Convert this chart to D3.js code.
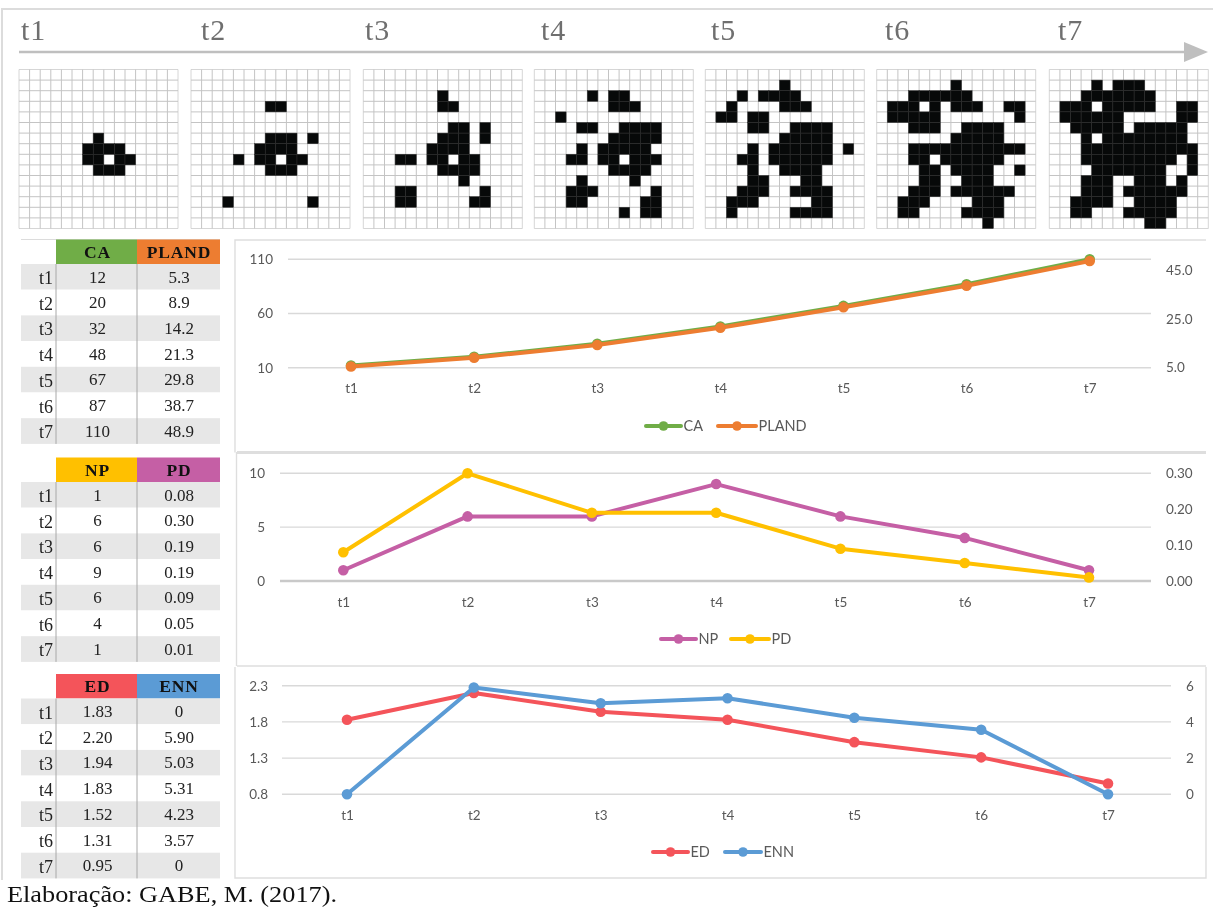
<!DOCTYPE html>
<html><head><meta charset="utf-8">
<style>html,body{margin:0;padding:0;background:#fff}svg{display:block;filter:blur(0.4px)}</style>
<script src="https://cdnjs.cloudflare.com/ajax/libs/d3/7.8.5/d3.min.js"></script>
</head><body><svg id="c" width="1213" height="907"></svg>
<script>
const periods=["t1","t2","t3","t4","t5","t6","t7"];
const caValues=[12,20,32,48,67,87,110];
const plandValues=[5.3,8.9,14.2,21.3,29.8,38.7,48.9];
const npValues=[1,6,6,9,6,4,1];
const pdValues=[0.08,0.30,0.19,0.19,0.09,0.05,0.01];
const edValues=[1.83,2.20,1.94,1.83,1.52,1.31,0.95];
const ennValues=[0,5.90,5.03,5.31,4.23,3.57,0];
const caTicks=[10,60,110];
const plandTicks=[5,25,45];
const npTicks=[0,5,10];
const pdTicks=[0,0.1,0.2,0.3];
const edTicks=[0.8,1.3,1.8,2.3];
const ennTicks=[0,2,4,6];
const sourceNote="Elaboração: GABE, M. (2017).";

const gridT1=["...............","...............","...............","...............","...............","...............",".......#.......","......####.....","......##.##....",".......###.....","...............","...............","...............","...............","..............."];
const gridT2=["...............","...............","...............",".......##......","...............","...............",".......###.#...","......####.....","....#.##.##....",".......###.....","...............","...............","...#.......#...","...............","..............."];
const gridT3=["...............","...............",".......#.......",".......##......","...............","........##.#...",".......###.#...","......####.....","...##.##.##....",".......####....",".........#.....","...##......#...","...##.....##...","...............","..............."];
const gridT4=["...............","...............",".....#.##......",".......###.....","..#............","....##..####...",".......#####...","....#.#####....","...##.##.###...",".......####....","....#....#.....","...###.....#...","...##.....##...","........#.##...","..............."];
const gridT5=["...............",".......#.......","...#.####......","..#....###.....",".##.##.........","....##..####...",".......#####...","....#.######.#.","...##.######...","....#..####....","....##...##....","...###..####...","..###.....##...","..#.....####...","..............."];
const gridT6=["...............",".......#.......","...######......",".###.#.###..##.",".#####.......#.","...###..####...",".......#####...","...###########.","...##.######...","....##.####..#.","....##..###....","...###.######..","..###....###...","..##....####...","..........#...."];
const gridT7=["...............","....#.###......","...#######.....",".###.#####..##.",".######.....##.","..#####.#####..","...#.########..","...###########.","...#########.#.","....#######..#.","...###..###.#..","...###.######..","..####..####...","..##...#####...",".........##...."];

const svg=d3.select("#c");
const serif="'Liberation Serif',serif";
const sans="Lato,'Open Sans',sans-serif";

// outer frame
svg.append("path").attr("d","M2,880V9H1213").attr("fill","none").attr("stroke","#dcdcdc").attr("stroke-width",2);

// timeline
const headPos=[21,201,365,541,711,885,1058];
svg.selectAll("text.head").data(periods).join("text").attr("class","head")
  .attr("x",(d,i)=>headPos[i]).attr("y",40).text(d=>d)
  .attr("font-family",serif).attr("font-size",30).attr("letter-spacing",1).attr("fill","#6f6f6f");
svg.append("line").attr("x1",19).attr("x2",1190).attr("y1",52).attr("y2",52).attr("stroke","#bfbfbf").attr("stroke-width",2.4);
svg.append("path").attr("d","M1184,42L1208,52L1184,62Z").attr("fill","#bfbfbf");

// mosaics
const grids=[gridT1,gridT2,gridT3,gridT4,gridT5,gridT6,gridT7];
const gridLeft=[19,191,363.3,534.3,705.3,876.7,1049.3];
const idx=d3.range(15);
grids.forEach((g,k)=>{
  const size=159;
  const x=d3.scaleBand().domain(idx).range([gridLeft[k],gridLeft[k]+size]);
  const y=d3.scaleBand().domain(idx).range([69.5,69.5+size]);
  const gg=svg.append("g");
  const cells=[];
  g.forEach((row,r)=>{for(let c=0;c<15;c++) if(row[c]==="#") cells.push({r,c});});
  const lines=d3.range(16);
  gg.selectAll("line.v").data(lines).join("line").attr("class","v")
    .attr("x1",d=>x.range()[0]+d*x.step()).attr("x2",d=>x.range()[0]+d*x.step())
    .attr("y1",y.range()[0]).attr("y2",y.range()[1]).attr("stroke","#c4c4c4").attr("stroke-width",1).attr("stroke-opacity",d=>d==0||d==15?0.7:1);
  gg.selectAll("line.h").data(lines).join("line").attr("class","h")
    .attr("y1",d=>y.range()[0]+d*y.step()).attr("y2",d=>y.range()[0]+d*y.step())
    .attr("x1",x.range()[0]).attr("x2",x.range()[1]).attr("stroke","#c4c4c4").attr("stroke-width",1).attr("stroke-opacity",d=>d==0||d==15?0.7:1);
  gg.selectAll("rect").data(cells).join("rect")
    .attr("x",d=>x(d.c)).attr("y",d=>y(d.r)).attr("width",x.bandwidth()).attr("height",y.bandwidth())
    .attr("fill","#070909").attr("stroke","#2e2e2e").attr("stroke-width",0.5);
});

// tables
function table(top,names,colors,a,b,fa,fb){
  const rowH=25.7, hH=24.5;
  const g=svg.append("g");
  const rows=d3.scaleBand().domain(periods).range([top+hH,top+hH+rowH*7]);
  g.append("rect").attr("x",56).attr("y",top).attr("width",81).attr("height",hH).attr("fill",colors[0]);
  g.append("rect").attr("x",137).attr("y",top).attr("width",83).attr("height",hH).attr("fill",colors[1]);
  g.selectAll("text.h").data(names).join("text").attr("class","h")
    .attr("x",(d,i)=>i?179:97.5).attr("y",top+18).attr("text-anchor","middle").text(d=>d)
    .attr("font-family",serif).attr("font-weight","bold").attr("font-size",17.5).attr("letter-spacing",0.8).attr("fill","#111");
  const r=g.selectAll("g.r").data(periods).join("g").attr("class","r");
  r.append("rect").attr("x",21).attr("y",d=>rows(d)).attr("width",199).attr("height",rows.bandwidth())
    .attr("fill",(d,i)=>i%2?"#ffffff":"#e7e7e7");
  const t=(sel)=>sel.attr("font-family",serif).attr("font-size",17).attr("fill","#222");
  r.append("text").attr("x",53).attr("y",d=>rows(d)+20).attr("text-anchor","end").text(d=>d).call(s=>s.attr("font-family",serif).attr("fill","#222").attr("font-size",18));
  r.append("text").attr("x",97.5).attr("y",d=>rows(d)+18.5).attr("text-anchor","middle").text((d,i)=>fa(a[i])).call(t);
  r.append("text").attr("x",179).attr("y",d=>rows(d)+18.5).attr("text-anchor","middle").text((d,i)=>fb(b[i])).call(t);
  [56,137].forEach(x=>g.append("line").attr("x1",x).attr("x2",x).attr("y1",top+hH).attr("y2",top+hH+rowH*7).attr("stroke","#a8a8a8").attr("stroke-width",1));
}
const f1=d3.format(".1f"), f2=d3.format(".2f"), fd=d3.format("d");
svg.append("line").attr("x1",21).attr("x2",220).attr("y1",239.5).attr("y2",239.5).attr("stroke","#dcdcdc").attr("stroke-width",1);
table(239.5,["CA","PLAND"],["#70ad47","#ed7d31"],caValues,plandValues,fd,f1);
table(457.5,["NP","PD"],["#ffc000","#c55fa5"],npValues,pdValues,fd,f2);
table(674,["ED","ENN"],["#f4545a","#5b9bd5"],edValues,ennValues,f2,v=>v===0?"0":f2(v));

// chart panels
[["M235,452.5V240H1206",1.4],["M237,452.5H1206",3.2],["M236.5,452V666",1.4],["M237,666H1206",1.6],["M235,667V878H1206V667",1.4]].forEach(([d,w])=>{
  svg.append("path").attr("d",d).attr("fill","none").attr("stroke","#dedede").attr("stroke-width",w);
});

function chart(o){
  const g=svg.append("g");
  const x=d3.scalePoint().domain(periods).range(o.xRange);
  const yL=d3.scaleLinear().domain(o.leftDomain).range(o.yRange);
  const yR=d3.scaleLinear().domain(o.rightDomain).range(o.yRangeR||o.yRange);
  g.selectAll("line.grid").data(o.leftTicks).join("line").attr("class","grid")
    .attr("x1",o.gridX[0]).attr("x2",o.gridX[1]).attr("y1",d=>yL(d)).attr("y2",d=>yL(d))
    .attr("stroke",(d,i)=>i==0&&o.heavyBase?"#c9c9c9":"#d9d9d9").attr("stroke-width",(d,i)=>i==0&&o.heavyBase?2.4:1.4);
  const style=(s)=>{s.select(".domain").remove();s.selectAll("line").remove();
    s.selectAll("text").attr("font-family",sans).attr("font-size",13.5).attr("fill","#595959");};
  g.append("g").attr("transform",`translate(${o.leftX},0)`)
    .call(d3.axisLeft(yL).tickValues(o.leftTicks).tickFormat(o.leftFmt).tickSize(0).tickPadding(0)).call(style);
  g.append("g").attr("transform",`translate(${o.rightX},0)`)
    .call(d3.axisRight(yR).tickValues(o.rightTicks).tickFormat(o.rightFmt).tickSize(0).tickPadding(0)).call(style);
  g.append("g").attr("transform",`translate(0,${o.catY})`)
    .call(d3.axisBottom(x).tickSize(0).tickPadding(0)).call(style);
  const line=(sc)=>d3.line().x((d,i)=>x(periods[i])).y(d=>sc(d));
  o.series.forEach(s=>{
    const sc=s.axis==="r"?yR:yL;
    g.append("path").attr("d",line(sc)(s.values)).attr("fill","none").attr("stroke",s.color).attr("stroke-width",4).attr("stroke-linejoin","round");
    g.selectAll(null).data(s.values).join("circle").attr("cx",(d,i)=>x(periods[i])).attr("cy",d=>sc(d)).attr("r",5.3).attr("fill",s.color);
    g.append("line").attr("x1",s.legend[0]).attr("x2",s.legend[1]).attr("y1",o.legendY).attr("y2",o.legendY).attr("stroke",s.color).attr("stroke-width",4).attr("stroke-linecap","round");
    g.append("circle").attr("cx",(s.legend[0]+s.legend[1])/2).attr("cy",o.legendY).attr("r",4.8).attr("fill",s.color);
    g.append("text").attr("x",s.legend[1]+2.5).attr("y",o.legendY+5).text(s.name)
      .attr("font-family",sans).attr("font-size",14.5).attr("fill","#595959");
  });
}
chart({xRange:[351,1089.7],gridX:[288,1151],leftDomain:[10,110],yRange:[367.7,259.3],rightDomain:[5,45],yRangeR:[367.2,270.5],
  leftTicks:caTicks,rightTicks:plandTicks,leftFmt:fd,rightFmt:f1,leftX:273,rightX:1166,catY:383,legendY:426,
  series:[{name:"CA",values:caValues,color:"#70ad47",axis:"l",legend:[646,681]},{name:"PLAND",values:plandValues,color:"#ed7d31",axis:"r",legend:[718,756]}]});
chart({xRange:[343.3,1089],gridX:[280,1151],leftDomain:[0,10],yRange:[581,473.3],rightDomain:[0,0.3],
  leftTicks:npTicks,rightTicks:pdTicks,leftFmt:fd,rightFmt:f2,leftX:265,rightX:1166,catY:597,legendY:639,heavyBase:true,
  series:[{name:"NP",values:npValues,color:"#c55fa5",axis:"l",legend:[661,696]},{name:"PD",values:pdValues,color:"#ffc000",axis:"r",legend:[731,769]}]});
chart({xRange:[347,1108],gridX:[282,1171],leftDomain:[0.8,2.3],yRange:[794.3,685.7],rightDomain:[0,6],
  leftTicks:edTicks,rightTicks:ennTicks,leftFmt:f1,rightFmt:fd,leftX:268,rightX:1186,catY:810.5,legendY:852,
  series:[{name:"ED",values:edValues,color:"#f4545a",axis:"l",legend:[653,688]},{name:"ENN",values:ennValues,color:"#5b9bd5",axis:"r",legend:[725,761]}]});

svg.append("text").attr("x",7).attr("y",901.5).text(sourceNote)
  .attr("font-family",serif).attr("font-size",23).attr("fill","#111")
  .attr("textLength",330).attr("lengthAdjust","spacingAndGlyphs");
</script></body></html>
